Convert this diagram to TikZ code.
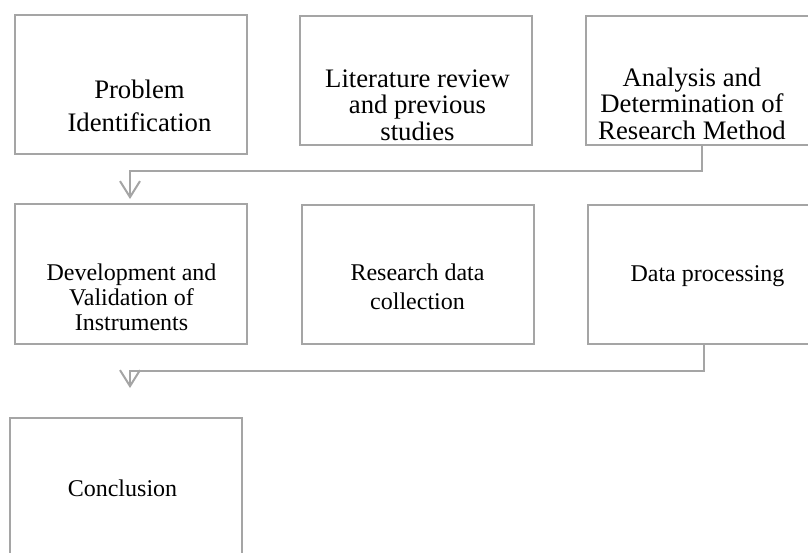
\documentclass[tikz,border=0pt]{standalone}
\usepackage{fontspec}
\setmainfont{Liberation Serif}
\usetikzlibrary{arrows.meta}

\definecolor{boxgray}{RGB}{165,165,165}

\tikzset{
  stepbox/.style={draw=boxgray, line width=2pt, minimum width=232pt,
    minimum height=139pt, inner sep=0pt, outer sep=0pt},
  steptext/.style={align=center, font=\fontsize{24}{25}\selectfont},
  steptextlarge/.style={align=center, font=\fontsize{26.7}{26.5}\selectfont},
  flow/.style={draw=boxgray, line width=2pt,
    -{Straight Barb[length=16pt,width=20pt]}}
}

\begin{document}
\begin{tikzpicture}[x=1pt,y=-1pt]
  \useasboundingbox (0,0) rectangle (808,552);
  \clip (0,0) rectangle (808,552);

  % First row
  \node[stepbox] (problem) at (130.5,84.5) {};
  \node[stepbox, minimum height=129pt] (review) at (416,80) {};
  \node[stepbox, minimum height=129pt] (method) at (702,80) {};
  \node[steptextlarge] (problemtxt) at (139.5,106) {Problem\\[6.5pt]Identification};
  \node[steptextlarge] (reviewtxt) at (417.5,105) {Literature review\\and previous\\studies};
  \node[steptextlarge] (methodtxt) at (692,103.5) {Analysis and\\Determination of\\Research Method};

  % Second row
  \node[stepbox, minimum height=140pt] (instrument) at (131,273.5) {};
  \node[stepbox] (collection) at (418,274.5) {};
  \node[stepbox, minimum height=139pt] (processing) at (704,274) {};
  \node[steptext] (instrumenttxt) at (131.5,297) {Development and\\Validation of\\Instruments};
  \node[steptext] (collectiontxt) at (417.5,287) {Research data\\[4pt]collection};
  \node[steptext] (processingtxt) at (707.5,276.5) {Data processing};

  % Last row
  \node[stepbox, minimum height=140pt] (conclusion) at (125.5,488) {};
  \node[steptext] (conclusiontxt) at (122.5,488) {Conclusion};

  % Connectors
  \coordinate (tipa) at (130,199);
  \coordinate (tipb) at (130,388);
  \draw[flow] (method.south) -- ++(0,26) -| (tipa);
  \draw[flow] (processing.south) -- ++(0,27) -| (tipb);
\end{tikzpicture}
\end{document}
